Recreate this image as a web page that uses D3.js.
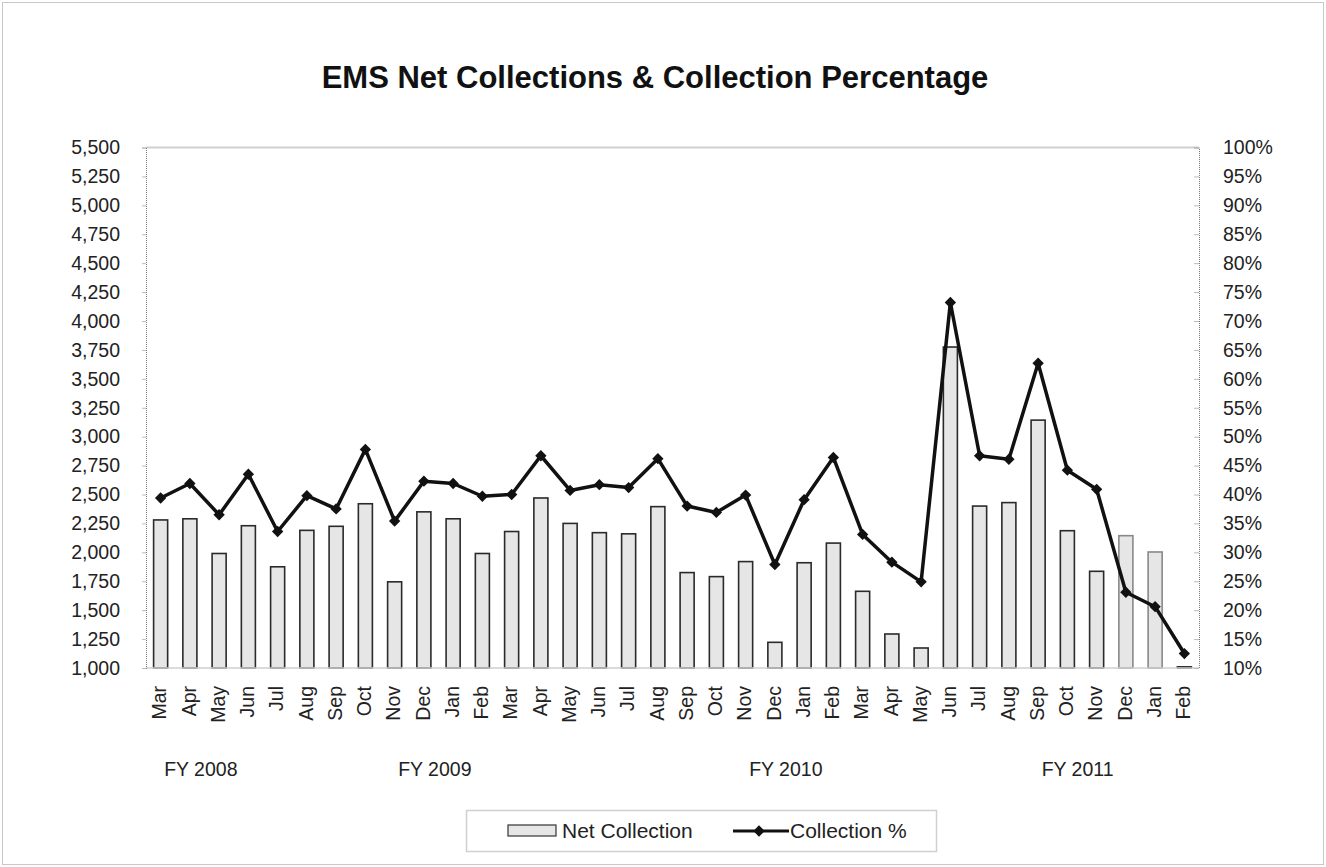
<!DOCTYPE html>
<html>
<head>
<meta charset="utf-8">
<script src="https://cdn.jsdelivr.net/npm/d3@7"></script>
<style>
  html, body { margin: 0; padding: 0; background: #fff; }
  svg { display: block; font-family: "Liberation Sans", Arial, sans-serif; }
</style>
</head>
<body>
<svg id="chart" width="1326" height="867"></svg>
<script>
// ---- Data ----
const months = ["Mar","Apr","May","Jun","Jul","Aug","Sep","Oct","Nov","Dec","Jan","Feb",
                "Mar","Apr","May","Jun","Jul","Aug","Sep","Oct","Nov","Dec","Jan","Feb",
                "Mar","Apr","May","Jun","Jul","Aug","Sep","Oct","Nov","Dec","Jan","Feb"];
const netCollection = [2280,2290,1990,2230,1875,2190,2225,2420,1745,2350,2290,1990,
                       2180,2470,2250,2170,2160,2395,1825,1790,1920,1222,1910,2080,
                       1663,1294,1173,3775,2400,2430,3143,2187,1836,2144,2003,1010];
const collectionPct = [0.394,0.419,0.365,0.435,0.336,0.398,0.375,0.478,0.354,0.423,0.419,0.397,
                       0.400,0.467,0.407,0.417,0.412,0.462,0.380,0.369,0.399,0.279,0.391,0.464,
                       0.331,0.283,0.249,0.732,0.467,0.461,0.627,0.442,0.409,0.231,0.206,0.125];
const fiscalYears = ["FY 2008","FY 2009","FY 2010","FY 2011"];
const fiscalYearStart = [0, 8, 20, 30];
const leftTicks = d3.range(1000, 5501, 250);
const rightTicks = d3.range(10, 101, 5).map(d => d / 100);
const title = "EMS Net Collections & Collection Percentage";

// ---- Layout ----
const svg = d3.select("#chart");
const W = 1326, H = 867;
const plot = { left: 146, right: 1199, top: 147.5, bottom: 668 };
const FS = 19.5;

// outer border
svg.append("rect").attr("x", 2.5).attr("y", 2.5).attr("width", W - 5).attr("height", H - 5)
  .attr("fill", "#fff").attr("stroke", "#c8c8c8").attr("stroke-width", 1);

const x = d3.scaleBand().domain(d3.range(months.length)).range([plot.left, plot.right]).padding(0);
const yL = d3.scaleLinear().domain([1000, 5500]).range([plot.bottom, plot.top]);
const yR = d3.scaleLinear().domain([0.10, 1.00]).range([plot.bottom, plot.top]);

// title
svg.append("text").attr("x", 655).attr("y", 88).attr("text-anchor", "middle")
  .attr("font-size", 31).attr("font-weight", "bold").attr("fill", "#111").text(title);

// plot frame top
svg.append("line").attr("x1", plot.left).attr("x2", plot.right).attr("y1", plot.top).attr("y2", plot.top)
  .attr("stroke", "#d0d0d0").attr("stroke-width", 2);

// bars
const bw = x.bandwidth() * 0.48;
svg.append("g").selectAll("rect").data(netCollection).join("rect")
  .attr("x", (d, i) => x(i) + (x.bandwidth() - bw) / 2)
  .attr("y", d => yL(d))
  .attr("width", bw)
  .attr("height", d => yL(1000) - yL(d))
  .attr("fill", "#e6e6e6")
  .attr("stroke", (d, i) => i >= 33 && i <= 34 ? "#888" : "#2a2a2a")
  .attr("stroke-width", 1.6);

// baseline
svg.append("line").attr("x1", plot.left).attr("x2", plot.right).attr("y1", plot.bottom).attr("y2", plot.bottom)
  .attr("stroke", "#cfcfcf").attr("stroke-width", 1.5);

// left axis
const axL = svg.append("g").attr("transform", `translate(${plot.left},0)`)
  .call(d3.axisLeft(yL).tickValues(leftTicks).tickFormat(d3.format(",")).tickSize(4).tickPadding(22));
axL.select(".domain").attr("stroke", "#777").attr("stroke-dasharray", "1,1");
axL.selectAll(".tick line").attr("stroke", "#bbb");
axL.selectAll(".tick text").attr("font-size", FS).attr("fill", "#222").attr("font-family", "Liberation Sans, Arial, sans-serif");

// right axis
const axR = svg.append("g").attr("transform", `translate(${plot.right},0)`)
  .call(d3.axisRight(yR).tickValues(rightTicks).tickFormat(d3.format(".0%")).tickSize(-5).tickPadding(24));
axR.select(".domain").attr("stroke", "#777").attr("stroke-dasharray", "1,1");
axR.selectAll(".tick line").attr("stroke", "#bbb");
axR.selectAll(".tick text").attr("font-size", FS).attr("fill", "#222").attr("font-family", "Liberation Sans, Arial, sans-serif");

// x labels (rotated)
svg.append("g").selectAll("text").data(months).join("text")
  .attr("transform", (d, i) => `translate(${x(i) + x.bandwidth() / 2 - 1},686) rotate(-90)`)
  .attr("text-anchor", "end").attr("dy", "0.35em")
  .attr("font-size", FS).attr("fill", "#222").text(d => d);

// fiscal year labels
svg.append("g").selectAll("text").data(fiscalYears).join("text")
  .attr("x", (d, i) => x(fiscalYearStart[i]) + x.bandwidth() * 0.62)
  .attr("y", 776)
  .attr("font-size", FS).attr("fill", "#222").text(d => d);

// line
const line = d3.line().x((d, i) => x(i) + x.bandwidth() / 2).y(d => yR(d));
svg.append("path").datum(collectionPct).attr("d", line)
  .attr("fill", "none").attr("stroke", "#111").attr("stroke-width", 3.5).attr("stroke-linejoin", "round");
const marker = d3.symbol().type(d3.symbolSquare).size(64);
svg.append("g").selectAll("path").data(collectionPct).join("path")
  .attr("d", marker)
  .attr("transform", (d, i) => `translate(${x(i) + x.bandwidth() / 2},${yR(d)}) rotate(45)`)
  .attr("fill", "#111");

// legend
const lg = svg.append("g");
lg.append("rect").attr("x", 466.5).attr("y", 810.5).attr("width", 470).attr("height", 41)
  .attr("fill", "#fff").attr("stroke", "#d0d0d0").attr("stroke-width", 1.5);
lg.append("rect").attr("x", 508).attr("y", 825).attr("width", 48).attr("height", 11)
  .attr("fill", "#e6e6e6").attr("stroke", "#333").attr("stroke-width", 1.2);
lg.append("text").attr("x", 562).attr("y", 838).attr("font-size", 21).attr("fill", "#222").text("Net Collection");
lg.append("line").attr("x1", 733).attr("x2", 789).attr("y1", 831).attr("y2", 831)
  .attr("stroke", "#111").attr("stroke-width", 3);
lg.append("path").attr("d", marker).attr("transform", "translate(759,831) rotate(45)").attr("fill", "#111");
lg.append("text").attr("x", 790).attr("y", 838).attr("font-size", 21).attr("fill", "#222").text("Collection %");
</script>
</body>
</html>
